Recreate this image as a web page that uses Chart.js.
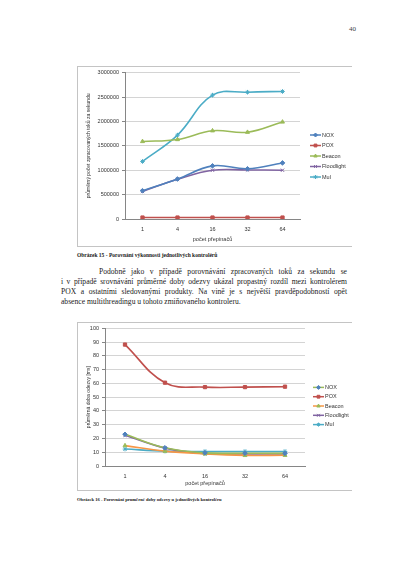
<!DOCTYPE html>
<html lang="cs">
<head>
<meta charset="utf-8">
<title>Porovnání kontrolérů</title>
<script src="https://cdn.jsdelivr.net/npm/chart.js@4/dist/chart.umd.min.js"></script>
<style>
    html, body { margin: 0; padding: 0; background: #fff; }
    body { position: relative; width: 397px; height: 561px; overflow: hidden; font-family: "Liberation Serif", serif; color: #1a1a1a; }
    .abs { position: absolute; white-space: nowrap; }
    .pagenum { left: 349px; top: 25px; font-size: 7px; color: #444; }
    .box { position: absolute; left: 77px; width: 274px; border: 1px solid #c4c4c4; border-right: none; }
    canvas { position: absolute; }
    .caption { font-weight: bold; font-size: 5.5px; left: 77px; }
    .line { position: absolute; left: 61px; width: 286px; font-size: 7.6px; line-height: 10px; height: 10px; text-align: justify; text-align-last: justify; white-space: nowrap; }
    .line.last { text-align: left; text-align-last: left; }
</style>
</head>
<body>
<div class="abs pagenum">40</div>

<div class="box" style="top:66px;height:179px;"></div>
<canvas id="toky-chart" width="320" height="180" style="left:77px;top:66px;"></canvas>
<div class="abs caption" style="top:252px;">Obrázek 15 - Porovnání výkonnosti jednotlivých kontrolérů</div>

<div class="line" style="top:267px;padding-left:38px;width:248px;">Podobně jako v případě porovnávání zpracovaných toků za sekundu se</div>
<div class="line" style="top:277px;">i v případě srovnávání průměrné doby odezvy ukázal propastný rozdíl mezi kontrolérem</div>
<div class="line" style="top:287px;">POX a ostatními sledovanými produkty. Na vině je s největší pravděpodobností opět</div>
<div class="line last" style="top:297px;">absence multithreadingu u tohoto zmiňovaného kontroleru.</div>

<div class="box" style="top:322px;height:167px;"></div>
<canvas id="odezva-chart" width="320" height="168" style="left:77px;top:322px;"></canvas>
<div class="abs caption" style="top:497px;font-size:4.6px;">Obrázek 16 - Porovnání průměrné doby odezvy u jednotlivých kontrolérů</div>

<script>
// počet přepínačů (kategorie na ose x)
const prepinace = ['1', '4', '16', '32', '64'];
const nazvy = ['NOX', 'POX', 'Beacon', 'Floodlight', 'Mul'];

// graf 1 - průměrný počet zpracovaných toků za sekundu
const tokyNox = [580000, 820000, 1090000, 1030000, 1150000];
const tokyPox = [30000, 30000, 30000, 30000, 30000];
const tokyBeacon = [1590000, 1630000, 1810000, 1780000, 1990000];
const tokyFloodlight = [565000, 815000, 1000000, 1005000, 1000000];
const tokyMul = [1180000, 1720000, 2540000, 2600000, 2615000];
const tokyTicks = [0, 500000, 1000000, 1500000, 2000000, 2500000, 3000000];

// graf 2 - průměrná doba odezvy [ms]
const odezvaNox = [23, 13.2, 9.5, 9.3, 9.2];
const odezvaPox = [88.2, 60.5, 57.3, 57.3, 57.6];
const odezvaBeacon = [14.8, 10.8, 8.8, 7.7, 7.8];
const odezvaFloodlight = [22.3, 13, 9, 8.8, 8.8];
const odezvaMul = [12.3, 10.8, 10.5, 10.5, 10.5];
const odezvaTicks = [0, 10, 20, 30, 40, 50, 60, 70, 80, 90, 100];

const BLUE = '#4f81bd', RED = '#c0504d', GREEN = '#9bbb59', PURPLE = '#8064a2', CYAN = '#4bacc6', ORANGE = '#f79646';
const FONT = 'Liberation Sans';

document.addEventListener('DOMContentLoaded', () => {
    initTokyChart();
    initOdezvaChart();
});

// legenda ve stylu Excelu: čára se značkou uprostřed
const excelLegend = {
    id: 'excelLegend',
    afterDraw(chart, args, opts) {
        const ctx = chart.ctx;
        const sets = chart.data.datasets;
        const y0 = chart.height / 2 - (sets.length - 1) / 2 * opts.rowHeight;
        const x = chart.chartArea.right + opts.offset;
        ctx.save();
        sets.forEach((ds, i) => {
            const y = y0 + i * opts.rowHeight;
            ctx.strokeStyle = ds.borderColor;
            ctx.lineWidth = 1.5;
            ctx.beginPath();
            ctx.moveTo(x, y);
            ctx.lineTo(x + opts.lineLength, y);
            ctx.stroke();
            ctx.fillStyle = ds.pointBackgroundColor;
            ctx.strokeStyle = ds.pointBorderColor;
            ctx.lineWidth = 1;
            Chart.helpers.drawPoint(ctx, { pointStyle: ds.pointStyle, radius: 2, borderWidth: 1, rotation: 0 }, x + opts.lineLength / 2, y);
            ctx.fillStyle = '#333';
            ctx.font = '5.5px "' + FONT + '"';
            ctx.textBaseline = 'middle';
            ctx.fillText(ds.label, x + opts.lineLength + 1, y);
        });
        ctx.restore();
    }
};

function serie(label, data, lineColor, markColor, style) {
    return {
        label: label,
        data: data,
        borderColor: lineColor,
        borderWidth: 1.6,
        pointStyle: style,
        pointRadius: 2.3,
        pointBorderWidth: 1,
        pointBackgroundColor: markColor,
        pointBorderColor: markColor,
        tension: 0.4,
        fill: false
    };
}

function osy(ticks, yTitle, yWidth, xHeight, xTitlePad) {
    const small = { family: FONT, size: 5.5 };
    return {
        x: {
            offset: true,
            grid: { display: false, drawTicks: false },
            border: { color: '#868686' },
            ticks: { font: small, color: '#333', padding: 7 },
            title: { display: true, text: 'počet přepínačů', font: small, color: '#333', padding: xTitlePad },
            afterFit: s => { s.height = xHeight; }
        },
        y: {
            min: ticks[0],
            max: ticks[ticks.length - 1],
            afterBuildTicks: s => { s.ticks = ticks.map(v => ({ value: v })); },
            ticks: { font: small, color: '#333', padding: 3, callback: v => String(v) },
            grid: { color: '#d4d4d4', tickLength: 3, tickColor: '#868686' },
            border: { color: '#868686' },
            title: { display: true, text: yTitle, font: { family: FONT, size: 5 }, color: '#333', padding: { top: 9, bottom: 0 } },
            afterFit: s => { s.width = yWidth; }
        }
    };
}

// graf 1
function initTokyChart() {
    const ctx = document.getElementById('toky-chart').getContext('2d');
    new Chart(ctx, {
        type: 'line',
        data: {
            labels: prepinace,
            datasets: [
                serie(nazvy[0], tokyNox, BLUE, BLUE, 'rectRot'),
                serie(nazvy[1], tokyPox, RED, RED, 'rect'),
                serie(nazvy[2], tokyBeacon, GREEN, GREEN, 'triangle'),
                serie(nazvy[3], tokyFloodlight, PURPLE, PURPLE, 'crossRot'),
                serie(nazvy[4], tokyMul, CYAN, CYAN, 'star')
            ]
        },
        options: {
            responsive: false,
            animation: false,
            devicePixelRatio: 1,
            layout: { padding: { left: 0, top: 6.7, right: 97, bottom: 0 } },
            plugins: {
                legend: { display: false },
                tooltip: { enabled: false },
                excelLegend: { offset: 10, lineLength: 11, rowHeight: 10.5 }
            },
            scales: osy(tokyTicks, 'průměrný počet zpracovaných toků za sekundu', 48, 27, { top: 2, bottom: 3 })
        },
        plugins: [excelLegend]
    });
}

// graf 2
function initOdezvaChart() {
    const ctx = document.getElementById('odezva-chart').getContext('2d');
    new Chart(ctx, {
        type: 'line',
        data: {
            labels: prepinace,
            datasets: [
                serie(nazvy[0], odezvaNox, GREEN, BLUE, 'rectRot'),
                serie(nazvy[1], odezvaPox, RED, RED, 'rect'),
                serie(nazvy[2], odezvaBeacon, ORANGE, GREEN, 'triangle'),
                serie(nazvy[3], odezvaFloodlight, PURPLE, PURPLE, 'crossRot'),
                serie(nazvy[4], odezvaMul, CYAN, CYAN, 'star')
            ]
        },
        options: {
            responsive: false,
            animation: false,
            devicePixelRatio: 1,
            layout: { padding: { left: 0, top: 5, right: 92, bottom: 0 } },
            plugins: {
                legend: { display: false },
                tooltip: { enabled: false },
                excelLegend: { offset: 8, lineLength: 11, rowHeight: 9.3 }
            },
            scales: osy(odezvaTicks, 'průměrná doba odezvy [ms]', 28, 24, { top: 0, bottom: 3 })
        },
        plugins: [excelLegend]
    });
}
</script>
</body>
</html>
